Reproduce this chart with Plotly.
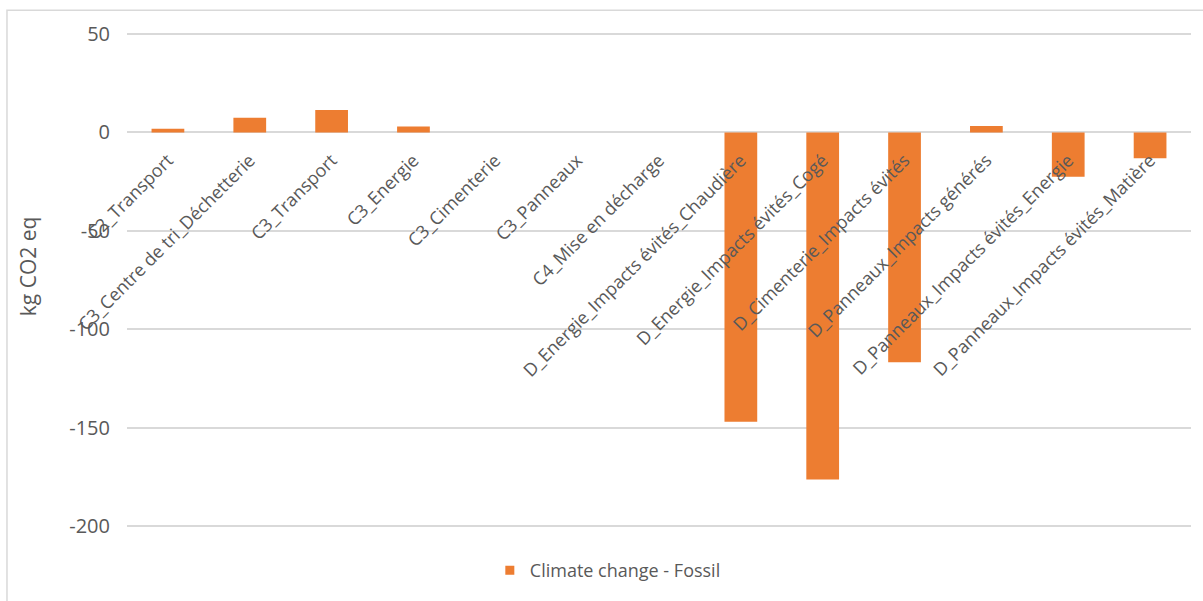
import plotly.graph_objects as go

# Life-cycle stages (modules C and D) and their fossil climate-change impact
stages = [
    "C2_Transport",
    "C3_Centre de tri_Déchetterie",
    "C3_Transport",
    "C3_Energie",
    "C3_Cimenterie",
    "C3_Panneaux",
    "C4_Mise en décharge",
    "D_Energie_Impacts évités_Chaudière",
    "D_Energie_Impacts évités_Cogé",
    "D_Cimenterie_Impacts évités",
    "D_Panneaux_Impacts générés",
    "D_Panneaux_Impacts évités_Energie",
    "D_Panneaux_Impacts évités_Matière",
]
fossil_kg_co2 = [1.8, 7.4, 11.4, 3.0, 0.0, 0.0, 0.0, -147.0, -176.3, -116.8, 3.3, -22.6, -13.2]

series_name = "Climate change - Fossil"
y_title = "kg CO2 eq"
y_ticks = [50, 0, -50, -100, -150, -200]

ORANGE = "#ED7D31"
GRID = "#D9D9D9"
TEXT = "#595959"
FONT = "Open Sans"

y_min, y_max = -201, 51

fig = go.Figure()
fig.add_trace(go.Bar(
    x=stages,
    y=fossil_kg_co2,
    marker=dict(color=ORANGE, line=dict(width=0)),
    name=series_name,
    showlegend=False,
))
# legend entry drawn as a small square swatch
fig.add_trace(go.Scatter(
    x=[None], y=[None],
    mode="markers",
    marker=dict(symbol="square", size=9, color=ORANGE),
    name=series_name,
    showlegend=True,
))

fig.update_layout(
    width=1203,
    height=601,
    margin=dict(l=127, r=12, t=32, b=69),
    paper_bgcolor="white",
    plot_bgcolor="white",
    font=dict(family=FONT, size=18, color=TEXT),
    bargap=0.6,
    showlegend=True,
    legend=dict(
        orientation="h",
        x=0.341, xanchor="left",
        y=-0.086, yanchor="middle",
        font=dict(family=FONT, size=18, color=TEXT),
        bgcolor="rgba(0,0,0,0)",
    ),
    xaxis=dict(
        type="category",
        categoryorder="array",
        categoryarray=stages,
        anchor="free",
        position=(0 - y_min) / (y_max - y_min),
        tickangle=-45,
        showgrid=False,
        showline=False,
        zeroline=False,
        ticks="",
        ticklabelstandoff=13,
        tickfont=dict(family=FONT, size=18, color=TEXT),
    ),
    yaxis=dict(
        range=[y_min, y_max],
        tickmode="array",
        tickvals=y_ticks,
        ticktext=[str(v) for v in y_ticks],
        showgrid=True,
        gridcolor=GRID,
        gridwidth=2,
        zeroline=True,
        zerolinecolor=GRID,
        zerolinewidth=2,
        showline=False,
        ticks="",
        ticklabelstandoff=16,
        tickfont=dict(family=FONT, size=20, color=TEXT),
    ),
    shapes=[
        dict(
            type="rect", xref="paper", yref="paper",
            x0=-0.1128, x1=1.05, y0=-0.2, y1=1.044,
            line=dict(color=GRID, width=1.5),
            fillcolor="rgba(0,0,0,0)",
            layer="below",
        )
    ],
    annotations=[
        dict(
            text=y_title, xref="paper", yref="paper",
            x=-0.093, y=0.528, xanchor="center", yanchor="middle",
            textangle=-90, showarrow=False,
            font=dict(family=FONT, size=21, color=TEXT),
        )
    ],
)

fig.write_html("out.html")
